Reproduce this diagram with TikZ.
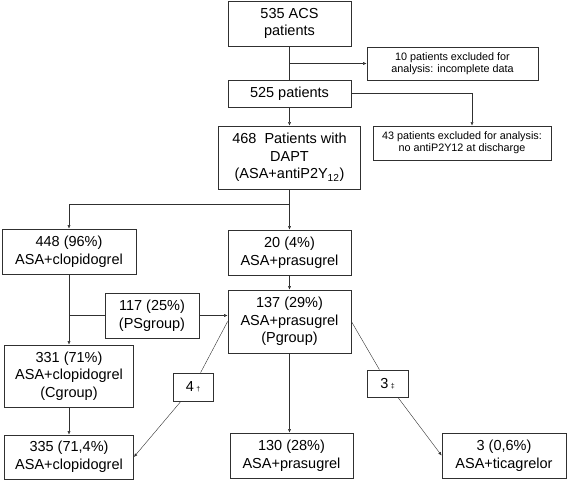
\documentclass[tikz,border=0pt]{standalone}
\usepackage{fontspec}
\setmainfont{Liberation Sans}
\usetikzlibrary{arrows.meta}
\definecolor{linegray}{HTML}{303030}
\newcommand{\boxfont}{\fontsize{14.5}{17.7}\selectfont}
\newcommand{\notefont}{\fontsize{10.8}{12.4}\selectfont}
\newcommand{\markfont}{\fontsize{7}{8}\selectfont}
\begin{document}
\begin{tikzpicture}[x=1pt,y=-1pt]
    \tikzstyle{every picture}=[line width=0.6pt]
    \tikzstyle{box}=[draw=linegray,line width=0.8pt,fill=white,inner sep=0pt,align=center,font=\boxfont]
    \tikzstyle{note}=[box,font=\notefont]
    \tikzstyle{arr}=[draw=linegray,-{Latex[length=3.5pt,width=3pt]}]
    \tikzstyle{ln}=[draw=linegray]
    \useasboundingbox (0,0) rectangle (567,481);
    \draw (289.5,23.5) node[box,minimum width=123pt,minimum height=45pt] (acs) {535 ACS\\patients};
    \draw (452.5,63.5) node[note,minimum width=171pt,minimum height=33pt] (excl1) {10 patients excluded for\\analysis: incomplete data};
    \draw (289.5,93.5) node[box,minimum width=123pt,minimum height=27pt] (p525) {525 patients};
    \draw (462,143) node[note,minimum width=178pt,minimum height=34pt] (excl2) {43 patients excluded for analysis:\\no antiP2Y12 at discharge};
    \draw (289.5,157.5) node[box,minimum width=142pt,minimum height=63pt] (dapt) {468\ \ Patients with\\DAPT\\(ASA+antiP2Y\textsubscript{12})};
    \draw (69,251.5) node[box,minimum width=134pt,minimum height=45pt] (clop) {448 (96\%)\\ASA+clopidogrel};
    \draw (289.5,252.5) node[box,minimum width=123pt,minimum height=45pt] (pras) {20 (4\%)\\ASA+prasugrel};
    \draw (152,315.5) node[box,minimum width=94pt,minimum height=45pt] (ps) {117 (25\%)\\(PSgroup)};
    \draw (289.5,321.5) node[box,minimum width=123pt,minimum height=63pt] (pgrp) {137 (29\%)\\ASA+prasugrel\\(Pgroup)};
    \draw (69,376) node[box,minimum width=129pt,minimum height=62pt] (cgrp) {331 (71\%)\\ASA+clopidogrel\\(Cgroup)};
    \draw (193,387) node[box,minimum width=40pt,minimum height=28pt] (lab4) {4\,{\markfont †}};
    \draw (387.5,383.5) node[box,minimum width=41pt,minimum height=27pt] (lab3) {3\,{\markfont ‡}};
    \draw (69,457) node[box,minimum width=129pt,minimum height=44pt] (fclop) {335 (71,4\%)\\ASA+clopidogrel};
    \draw (291.5,455.5) node[box,minimum width=123pt,minimum height=45pt] (fpras) {130 (28\%)\\ASA+prasugrel};
    \draw (504,455.5) node[box,minimum width=124pt,minimum height=45pt] (ftic) {3 (0,6\%)\\ASA+ticagrelor};
    \coordinate (fork) at (289.5,204);
    % top part
    \draw[ln] (acs) -- (p525);
    \draw[arr] (acs.south |- excl1.west) -- (excl1.west);
    \draw[arr] (p525) -- (dapt);
    \draw[arr] (p525.east) -| ([xshift=10pt]excl2.north);
    % split after DAPT
    \draw[arr] (dapt) -- (pras);
    \draw[arr] (fork) -| (clop.north);
    \draw[arr] (pras) -- (pgrp);
    \draw[arr] (clop.south) -- (cgrp.north);
    \draw[ln] (clop.south |- ps.west) -- (ps.west);
    \draw[arr] (ps.east) -- (ps.east -| pgrp.west);
    % final therapy
    \draw[arr] (cgrp) -- (fclop);
    \draw[arr] (pgrp.south) -- (pgrp.south |- fpras.north);
    \draw[ln] (pgrp.west) -- (lab4);
    \draw[arr] (lab4) -- (fclop.east);
    \draw[ln] (pgrp.east) -- (lab3);
    \draw[arr] (lab3) -- (ftic.west);
\end{tikzpicture}
\end{document}
